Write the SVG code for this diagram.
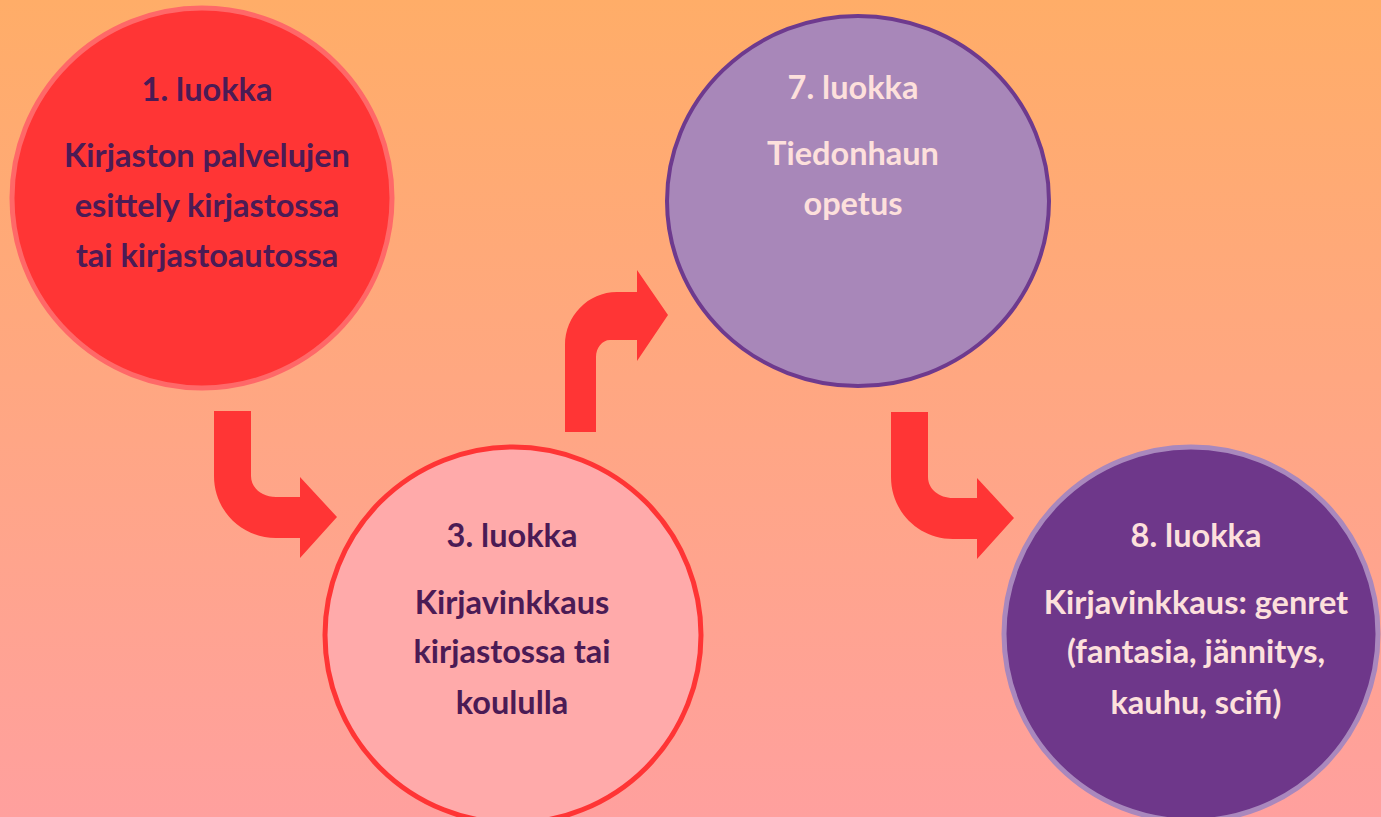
<svg xmlns="http://www.w3.org/2000/svg" width="1381" height="817" viewBox="0 0 1381 817">
<defs>
<linearGradient id="bg" x1="0" y1="0" x2="0" y2="1">
<stop offset="0" stop-color="#ffad68"/>
<stop offset="1" stop-color="#ffa09e"/>
</linearGradient>
</defs>
<style>
text{font-family:Lato,"Liberation Sans",sans-serif;font-weight:bold;font-size:32.5px;text-anchor:middle}
.dk{fill:#4b1b55}
.lt{fill:#fde0dc}
.arrow{fill:#ff3535}
</style>
<rect width="1381" height="817" fill="url(#bg)"/>
<g id="connectors">
<path class="arrow" d="M214,411 H251 V476 C251,488 262,497 276,497 H300 V477 L337,517 L300,558 V538 H276 C241,538 214,510 214,476 Z"/>
<path class="arrow" d="M565,432 V345 C565,316 588,292 617,292 H637 V270 L668,315 L637,361 V340 H610 C602,340 596,348 596,357 V432 Z"/>
<path class="arrow" transform="translate(677,1)" d="M214,411 H251 V476 C251,488 262,497 276,497 H300 V477 L337,517 L300,558 V538 H276 C241,538 214,510 214,476 Z"/>
</g>
<g id="node1">
<circle cx="202" cy="198" r="190" fill="#ff3535" stroke="#ff6868" stroke-width="5"/>
<text class="dk" x="207" y="101">1. luokka</text>
<text class="dk" x="207" y="167">Kirjaston palvelujen</text>
<text class="dk" x="207" y="217">esittely kirjastossa</text>
<text class="dk" x="207" y="267">tai kirjastoautossa</text>
</g>
<g id="node3">
<circle cx="513" cy="635" r="188" fill="#ffaaaa" stroke="#ff3535" stroke-width="5"/>
<text class="dk" x="512" y="547">3. luokka</text>
<text class="dk" x="512" y="614">Kirjavinkkaus</text>
<text class="dk" x="512" y="663">kirjastossa tai</text>
<text class="dk" x="512" y="714">koululla</text>
</g>
<g id="node7">
<ellipse cx="858" cy="201" rx="191" ry="185" fill="#a887b9" stroke="#6e3a8e" stroke-width="4"/>
<text class="lt" x="853" y="99">7. luokka</text>
<text class="lt" x="853" y="165">Tiedonhaun</text>
<text class="lt" x="853" y="215">opetus</text>
</g>
<g id="node8">
<circle cx="1191" cy="634" r="187" fill="#6e378a" stroke="#a988bd" stroke-width="5"/>
<text class="lt" x="1196" y="547">8. luokka</text>
<text class="lt" x="1196" y="614">Kirjavinkkaus: genret</text>
<text class="lt" x="1196" y="663">(fantasia, jännitys,</text>
<text class="lt" x="1196" y="714">kauhu, scifi)</text>
</g>
</svg>
